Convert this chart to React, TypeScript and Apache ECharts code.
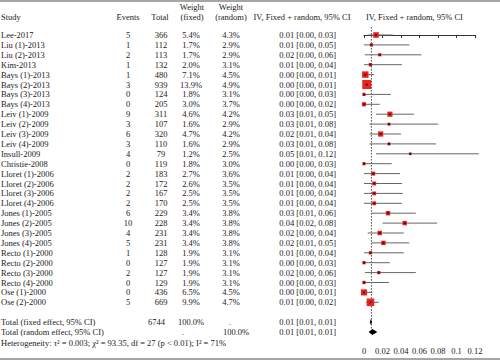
import React, { useEffect, useRef } from "react";
import * as echarts from "echarts";

const studies = [
  "Lee-2017", "Liu (1)-2013", "Liu (2)-2013", "Kim-2013", "Bays (1)-2013", "Bays (2)-2013",
  "Bays (3)-2013", "Bays (4)-2013", "Leiv (1)-2009", "Leiv (2)-2009", "Leiv (3)-2009",
  "Leiv (4)-2009", "Insull-2009", "Christie-2008", "Lloret (1)-2006", "Lloret (2)-2006",
  "Lloret (3)-2006", "Lloret (4)-2006", "Jones (1)-2005", "Jones (2)-2005", "Jones (3)-2005",
  "Jones (4)-2005", "Recto (1)-2000", "Recto (2)-2000", "Recto (3)-2000", "Recto (4)-2000",
  "Ose (1)-2000", "Ose (2)-2000",
];
const events = [5, 1, 2, 1, 1, 3, 0, 0, 9, 3, 6, 3, 4, 0, 2, 2, 2, 2, 6, 10, 4, 5, 1, 0, 2, 0, 0, 5];
const totals = [366, 112, 113, 132, 480, 939, 124, 205, 311, 107, 320, 110, 79, 119, 183, 172, 167, 170, 229, 228, 231, 231, 128, 127, 127, 129, 436, 669];
const weightFixed = [5.4, 1.7, 1.7, 2.0, 7.1, 13.9, 1.8, 3.0, 4.6, 1.6, 4.7, 1.6, 1.2, 1.8, 2.7, 2.6, 2.5, 2.5, 3.4, 3.4, 3.4, 3.4, 1.9, 1.9, 1.9, 1.9, 6.5, 9.9];
const weightRandom = [4.3, 2.9, 2.9, 3.1, 4.5, 4.9, 3.1, 3.7, 4.2, 2.9, 4.2, 2.9, 2.5, 3.0, 3.6, 3.5, 3.5, 3.5, 3.8, 3.8, 3.8, 3.8, 3.1, 3.1, 3.1, 3.1, 4.5, 4.7];
const estimate = [0.013, 0.008, 0.017, 0.007, 0.0014, 0.003, 0, 0, 0.028, 0.027, 0.018, 0.027, 0.05, 0, 0.01, 0.011, 0.011, 0.011, 0.026, 0.044, 0.017, 0.021, 0.007, 0, 0.016, 0, 0, 0.007];
const lower = [0.004, 0, 0.001, 0, 0, 0, 0, 0, 0.013, 0.006, 0.006, 0.006, 0.013, 0, 0, 0, 0, 0, 0.008, 0.02, 0.004, 0.008, 0, 0, 0.001, 0, 0, 0.002];
const upper = [0.031, 0.049, 0.062, 0.041, 0.011, 0.008, 0.029, 0.017, 0.054, 0.08, 0.04, 0.078, 0.124, 0.03, 0.039, 0.041, 0.042, 0.041, 0.056, 0.079, 0.043, 0.049, 0.043, 0.028, 0.056, 0.027, 0.009, 0.016];

const pooledLabels = ["Total (fixed effect, 95% CI)", "Total (random effect, 95% CI)"];
const pooledEst = [0.0075, 0.009];
const pooledLower = [0.0062, 0.005];
const pooledUpper = [0.0088, 0.0145];
const pooledTotal = "6744";
const referenceLine = 0.008;
const heterogeneity = "Heterogeneity: \u03c4\u00b2 = 0.003; \u03c7\u00b2 = 93.35, df = 27 (p < 0.01); I\u00b2 = 71%";
const effectHeader = "IV, Fixed + random, 95% CI";

const Y0 = 35;
const U = 9.9;
const FONT = '"Liberation Serif", "DejaVu Serif", serif';
const FS = 8.5;

type Cell = { x: number; row: number; text: string; align: string };

function buildCells(): Cell[] {
  const c: Cell[] = [];
  const f2 = (v: number) => v.toFixed(2);
  c.push({ x: 1, row: -1.8, text: "Study", align: "left" });
  c.push({ x: 128, row: -1.8, text: "Events", align: "center" });
  c.push({ x: 160, row: -1.8, text: "Total", align: "center" });
  c.push({ x: 192, row: -2.8, text: "Weight", align: "center" });
  c.push({ x: 192, row: -1.8, text: "(fixed)", align: "center" });
  c.push({ x: 231, row: -2.8, text: "Weight", align: "center" });
  c.push({ x: 231, row: -1.8, text: "(random)", align: "center" });
  c.push({ x: 302, row: -1.8, text: effectHeader, align: "center" });
  c.push({ x: 366, row: -1.8, text: effectHeader, align: "left" });
  studies.forEach((s, i) => {
    c.push({ x: 1, row: i, text: s, align: "left" });
    c.push({ x: 128, row: i, text: String(events[i]), align: "center" });
    c.push({ x: 161, row: i, text: String(totals[i]), align: "center" });
    c.push({ x: 191, row: i, text: weightFixed[i].toFixed(1) + "%", align: "center" });
    c.push({ x: 231, row: i, text: weightRandom[i].toFixed(1) + "%", align: "center" });
    c.push({
      x: 336, row: i, align: "right",
      text: `${f2(estimate[i])} [${f2(lower[i])}, ${f2(upper[i])}]`,
    });
  });
  pooledLabels.forEach((s, k) => {
    const row = 29 + k;
    c.push({ x: 1, row, text: s, align: "left" });
    c.push({
      x: 336, row, align: "right",
      text: `${f2(pooledEst[k])} [${f2(pooledLower[k])}, ${f2(pooledUpper[k])}]`,
    });
  });
  c.push({ x: 156.5, row: 29, text: pooledTotal, align: "center" });
  c.push({ x: 191, row: 29, text: "100.0%", align: "center" });
  c.push({ x: 230, row: 29, text: ".", align: "center" });
  c.push({ x: 183, row: 30, text: ".", align: "center" });
  c.push({ x: 236, row: 30, text: "100.0%", align: "center" });
  c.push({ x: 1, row: 31.1, text: heterogeneity, align: "left" });
  return c;
}

export default function App() {
  const ref = useRef<HTMLDivElement>(null);
  useEffect(() => {
    if (!ref.current) return;
    const chart = echarts.init(ref.current, null, { renderer: "svg" });
    const cells = buildCells();
    const axisBottom = 337;
    const option: any = {
      animation: false,
      grid: [
        { left: 364, width: 111, top: 0, height: axisBottom, containLabel: false },
        { left: 0, width: 500, top: 0, height: 360, containLabel: false },
      ],
      xAxis: [
        {
          gridIndex: 0, type: "value", min: 0, max: 0.12, interval: 0.02,
          axisLine: { show: true, lineStyle: { color: "#333", width: 1 } },
          axisTick: { show: true, length: 3, lineStyle: { color: "#333" } },
          axisLabel: {
            fontSize: FS, fontFamily: FONT, color: "#222", margin: 9,
            formatter: (v: number) => String(+v.toFixed(2)),
          },
          splitLine: { show: false },
        },
        { gridIndex: 1, type: "value", min: 0, max: 500, show: false },
      ],
      yAxis: [
        { gridIndex: 0, type: "value", inverse: true, min: -Y0 / U, max: (axisBottom - Y0) / U, show: false },
        { gridIndex: 1, type: "value", inverse: true, min: -Y0 / U, max: (360 - Y0) / U, show: false },
      ],
      graphic: [
        { type: "line", shape: { x1: 0, y1: 1, x2: 500, y2: 1 }, style: { stroke: "#888", lineWidth: 1.5 } },
        { type: "line", shape: { x1: 0, y1: 359, x2: 500, y2: 359 }, style: { stroke: "#888", lineWidth: 1.5 } },
      ],
      series: [
        {
          type: "custom", xAxisIndex: 1, yAxisIndex: 1,
          data: cells.map((c) => [c.x, c.row]),
          renderItem: (params: any, api: any) => {
            const cell = cells[params.dataIndex];
            const p = api.coord([api.value(0), api.value(1)]);
            return {
              type: "text", x: p[0], y: p[1],
              style: {
                text: cell.text, align: cell.align, verticalAlign: "middle",
                fontSize: FS, fontFamily: FONT, fill: "#222",
              },
            };
          },
        },
        {
          type: "custom", xAxisIndex: 0, yAxisIndex: 0, clip: false,
          data: [[referenceLine, -0.8, 30]],
          renderItem: (params: any, api: any) => {
            const a = api.coord([api.value(0), api.value(1)]);
            const b = api.coord([api.value(0), api.value(2)]);
            return {
              type: "line", shape: { x1: a[0], y1: a[1], x2: b[0], y2: b[1] },
              style: { stroke: "#444", lineWidth: 1, lineDash: [1.5, 1.5] },
            };
          },
        },
        {
          type: "custom", xAxisIndex: 0, yAxisIndex: 0, clip: false,
          data: studies.map((_, i) => [lower[i], upper[i], i]),
          renderItem: (params: any, api: any) => {
            const a = api.coord([api.value(0), api.value(2)]);
            const b = api.coord([api.value(1), api.value(2)]);
            return {
              type: "line", shape: { x1: a[0], y1: a[1], x2: b[0], y2: b[1] },
              style: { stroke: "#666", lineWidth: 1 },
            };
          },
        },
        {
          type: "scatter", xAxisIndex: 0, yAxisIndex: 0, symbol: "rect",
          data: studies.map((_, i) => [estimate[i], i, weightFixed[i]]),
          symbolSize: (v: number[]) => 9 * Math.sqrt(v[2] / 13.9),
          itemStyle: { color: "#ee2020", opacity: 1 },
          z: 3,
        },
        {
          type: "scatter", xAxisIndex: 0, yAxisIndex: 0, symbol: "rect",
          data: studies.map((_, i) => [estimate[i], i]),
          symbolSize: 2,
          itemStyle: { color: "#111" },
          z: 4,
        },
        {
          type: "custom", xAxisIndex: 0, yAxisIndex: 0, clip: false,
          data: pooledEst.map((e, k) => [pooledLower[k], e, pooledUpper[k], 29 + k]),
          renderItem: (params: any, api: any) => {
            const row = api.value(3);
            const l = api.coord([api.value(0), row]);
            const m = api.coord([api.value(1), row]);
            const r = api.coord([api.value(2), row]);
            const h = 3;
            return {
              type: "polygon",
              shape: { points: [[l[0], l[1]], [m[0], m[1] - h], [r[0], r[1]], [m[0], m[1] + h]] },
              style: { fill: "#000" },
            };
          },
          z: 5,
        },
      ],
    };
    chart.setOption(option);
    return () => chart.dispose();
  }, []);
  return (
    <div
      ref={ref}
      style={{ position: "fixed", left: 0, top: 0, width: 500, height: 360, background: "#fff" }}
    />
  );
}
